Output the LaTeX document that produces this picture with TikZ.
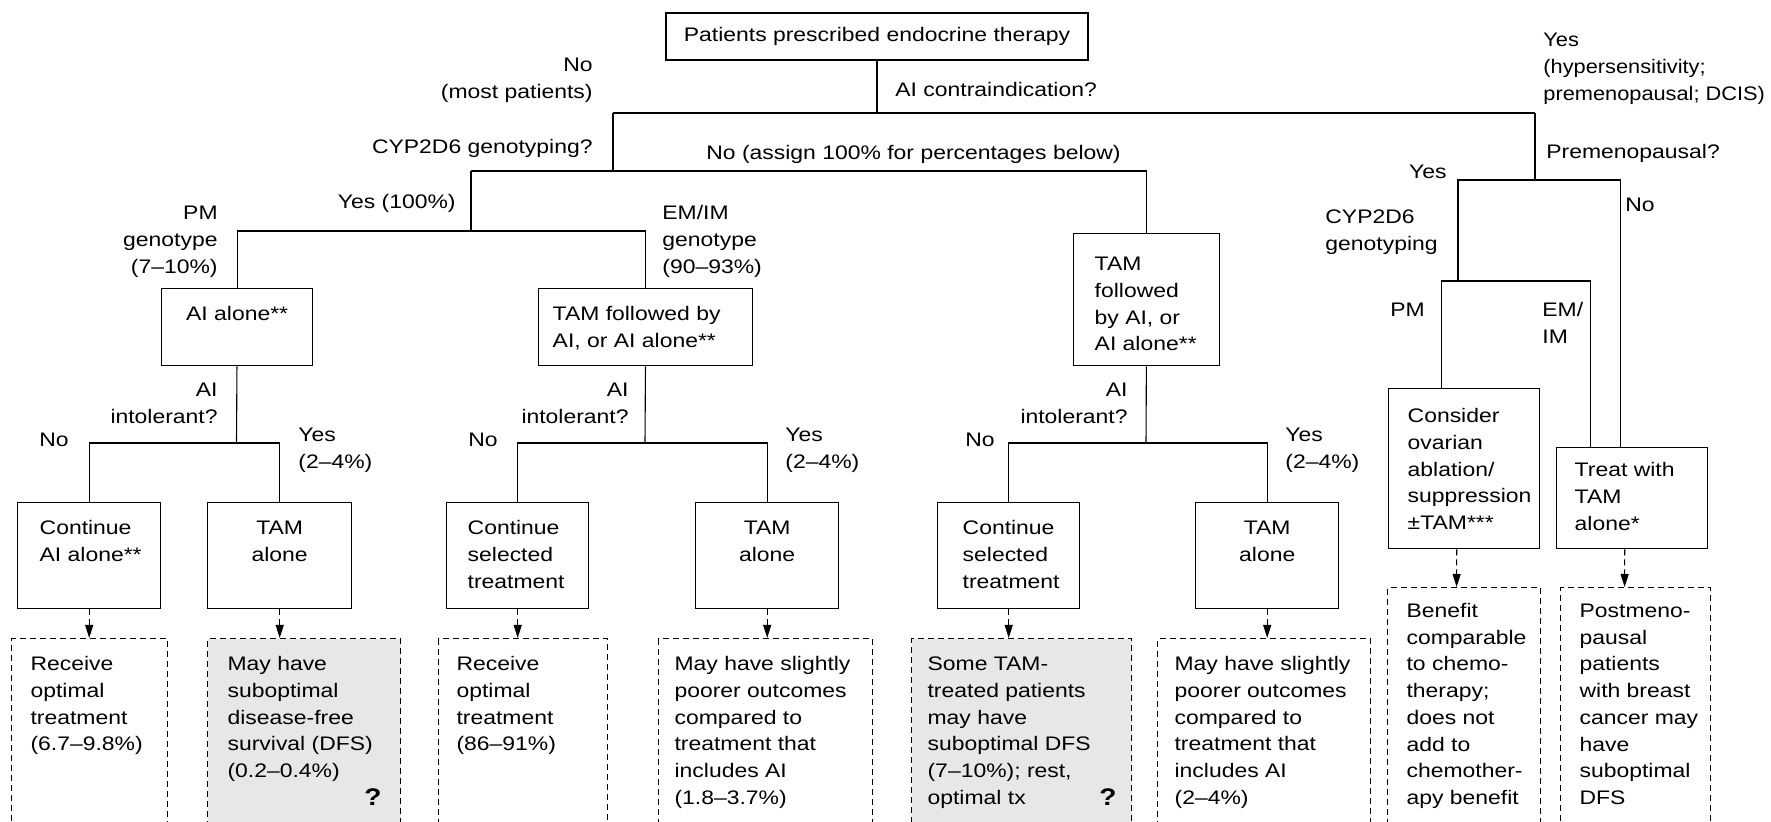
\documentclass[tikz,border=0pt]{standalone}
\usepackage{fontspec}
\usepackage{graphicx}
\setmainfont{Liberation Sans}[FakeStretch=1.17]
\usetikzlibrary{arrows.meta}
\definecolor{shade}{RGB}{230,231,232}
\hbadness=10000 \hfuzz=40pt
% text cells: first line sets the baseline
\newcommand\leftcell[2]{\makebox[#1][l]{\begin{tabular}[t]{@{}l@{}}#2\end{tabular}}}
\newcommand\midcell[2]{\makebox[#1][c]{\begin{tabular}[t]{@{}c@{}}#2\end{tabular}}}
\newcommand\leftlines[1]{\begin{tabular}[t]{@{}l@{}}#1\end{tabular}}
\newcommand\rightlines[1]{\begin{tabular}[t]{@{}r@{}}#1\end{tabular}}
\tikzset{
  box/.style={draw, line width=0.7pt, inner ysep=0pt, anchor=north west},
  outbox/.style={draw, dash pattern=on 3pt off 2pt, line width=0.6pt, inner ysep=0pt, anchor=north west},
  lbl/.style={inner sep=0pt},
  link/.style={line width=0.55pt},
  outarrow/.style={line width=0.55pt, dash pattern=on 3pt off 2pt, -{Triangle[length=6.5pt,width=4pt]}},
  qmark/.style={inner sep=0pt, font=\fontsize{12pt}{14pt}\selectfont\bfseries}
}
\begin{document}
\begin{tikzpicture}[x=0.5pt, y=-0.5pt, font=\fontsize{9.8pt}{13.35pt}\selectfont]
  \useasboundingbox (0,0) rectangle (1771,822);
  \clip (0,0) rectangle (1771,822);

  % decision boxes
  \node[box, anchor=center, inner sep=0pt, minimum width=211pt, minimum height=23.5pt] (top) at (877,36.5) {Patients prescribed endocrine therapy};
  \node[box, inner xsep=0pt, text height=16pt, text depth=22.5pt] (b1) at (161,288) {\midcell{75.5pt}{AI alone**}};
  \node[box, inner xsep=7pt, text height=16pt, text depth=22.5pt] (b2) at (538,288) {\leftcell{93pt}{TAM followed by\\AI, or AI alone**}};
  \node[box, inner xsep=10.5pt, text height=18.5pt, text depth=47.5pt] (b3) at (1073,233) {\leftcell{52pt}{TAM\\followed\\by AI, or\\AI alone**}};
  \node[box, inner xsep=11pt, text height=16pt, text depth=37pt] (c1) at (17,502) {\leftcell{49.5pt}{Continue\\AI alone**}};
  \node[box, inner xsep=0pt, text height=16pt, text depth=37pt] (c2) at (207,502) {\midcell{72pt}{TAM\\alone}};
  \node[box, inner xsep=10.5pt, text height=16pt, text depth=37pt] (c3) at (446,502) {\leftcell{50pt}{Continue\\selected\\treatment}};
  \node[box, inner xsep=0pt, text height=16pt, text depth=37pt] (c4) at (695,502) {\midcell{71.5pt}{TAM\\alone}};
  \node[box, inner xsep=12.5pt, text height=16pt, text depth=37pt] (c5) at (937,502) {\leftcell{46pt}{Continue\\selected\\treatment}};
  \node[box, inner xsep=0pt, text height=16pt, text depth=37pt] (c6) at (1195,502) {\midcell{71.5pt}{TAM\\alone}};
  \node[box, inner xsep=9.5pt, text height=17pt, text depth=63pt] (cons) at (1388,388) {\leftcell{56.5pt}{Consider\\ovarian\\ablation/\\suppression\\±TAM***}};
  \node[box, inner xsep=9pt, text height=14.5pt, text depth=36pt] (treat) at (1556,447) {\leftcell{57.5pt}{Treat with\\TAM\\alone*}};

  % outcome boxes
  \node[outbox, inner xsep=9.5pt, text height=16pt, text depth=85pt] (o1) at (11,638) {\leftcell{59pt}{Receive\\optimal\\treatment\\(6.7--9.8\%)}};
  \node[outbox, fill=shade, inner xsep=10pt, text height=16pt, text depth=85pt] (o2) at (207,638) {\leftcell{76.5pt}{May have\\suboptimal\\disease-free\\survival (DFS)\\(0.2--0.4\%)}};
  \node[outbox, inner xsep=9pt, text height=16pt, text depth=85pt] (o3) at (438,638) {\leftcell{66.5pt}{Receive\\optimal\\treatment\\(86--91\%)}};
  \node[outbox, inner xsep=8pt, text height=16pt, text depth=85pt] (o4) at (658,638) {\leftcell{91pt}{May have slightly\\poorer outcomes\\compared to\\treatment that\\includes AI\\(1.8--3.7\%)}};
  \node[outbox, fill=shade, inner xsep=8pt, text height=16pt, text depth=85pt] (o5) at (911,638) {\leftcell{94pt}{Some TAM-\\treated patients\\may have\\suboptimal DFS\\(7--10\%); rest,\\optimal tx}};
  \node[outbox, inner xsep=8.5pt, text height=16pt, text depth=85pt] (o6) at (1157,638) {\leftcell{89.5pt}{May have slightly\\poorer outcomes\\compared to\\treatment that\\includes AI\\(2--4\%)}};
  \node[outbox, inner xsep=9.5pt, text height=15pt, text depth=111.5pt] (o7) at (1387,587) {\leftcell{57.5pt}{Benefit\\comparable\\to chemo-\\therapy;\\does not\\add to\\chemother-\\apy benefit}};
  \node[outbox, inner xsep=9.5pt, text height=15pt, text depth=111.5pt] (o8) at (1560,587) {\leftcell{56pt}{Postmeno-\\pausal\\patients\\with breast\\cancer may\\have\\suboptimal\\DFS}};
  \node[qmark] (qa) at (373,797) {?};
  \node[qmark] (qb) at (1108,797) {?};

  % branch labels
  \node[lbl, anchor=base east] (no1) at (593,72) {\rightlines{No\\(most patients)}};
  \node[lbl, anchor=base west] (ask1) at (895,97) {AI contraindication?};
  \node[lbl, anchor=base west] (yes1) at (1543,47) {\scalebox{0.95}[1]{\leftlines{Yes\\(hypersensitivity;\\premenopausal; DCIS)}}};
  \node[lbl, anchor=base east] (ask2) at (593,154) {CYP2D6 genotyping?};
  \node[lbl, anchor=base west] (no2) at (706,160) {No (assign 100\% for percentages below)};
  \node[lbl, anchor=base west] (ask3) at (1546,159) {Premenopausal?};
  \node[lbl, anchor=base east] (yes3) at (1447,179) {Yes};
  \node[lbl, anchor=base west] (no3) at (1625,212) {No};
  \node[lbl, anchor=base west] (geno) at (1325,224) {\leftlines{CYP2D6\\genotyping}};
  \node[lbl, anchor=base east] (yes2) at (456,209) {Yes (100\%)};
  \node[lbl, anchor=base east] (pm) at (218,220) {\rightlines{PM\\genotype\\(7--10\%)}};
  \node[lbl, anchor=base west] (em) at (662,220) {\leftlines{EM/IM\\genotype\\(90--93\%)}};
  \node[lbl, anchor=base east] (int1) at (218,397) {\rightlines{AI\\intolerant?}};
  \node[lbl, anchor=base east] (int2) at (629,397) {\rightlines{AI\\intolerant?}};
  \node[lbl, anchor=base east] (int3) at (1128,397) {\rightlines{AI\\intolerant?}};
  \node[lbl, anchor=base west] (noa) at (39,447) {No};
  \node[lbl, anchor=base west] (nob) at (468,447) {No};
  \node[lbl, anchor=base west] (noc) at (965,447) {No};
  \node[lbl, anchor=base west] (yesa) at (298,442) {\leftlines{Yes\\(2--4\%)}};
  \node[lbl, anchor=base west] (yesb) at (785,442) {\leftlines{Yes\\(2--4\%)}};
  \node[lbl, anchor=base west] (yesc) at (1285,442) {\leftlines{Yes\\(2--4\%)}};
  \node[lbl, anchor=base west] (pm2) at (1390,317) {PM};
  \node[lbl, anchor=base west] (emim) at (1542,317) {\leftlines{EM/\\IM}};

  % tree lines
  \coordinate (aiL) at (613,113);
  \coordinate (aiR) at (1535,113);
  \coordinate (gen) at (613,171);
  \coordinate (genL) at (471,171);
  \coordinate (pmy) at (471,231);
  \coordinate (i1) at (236.5,443);
  \coordinate (i2) at (645,443);
  \coordinate (i3) at (1146,443);
  \coordinate (pre) at (1535,180);
  \coordinate (cyp) at (1458,281);
  \begin{scope}[link]
    \draw (top) -- (top |- aiL);
    \draw (aiL) -- (aiR);
    \draw (aiL) -- (gen);
    \draw (genL) -| (b3);
    \draw (genL) -- (pmy);
    \draw (b1) |- (pmy) -| (b2);
    \draw (b1) -- (i1);
    \draw (c1) |- (i1) -| (c2);
    \draw (b2) -- (i2);
    \draw (c3) |- (i2) -| (c4);
    \draw (b3) -- (i3);
    \draw (c5) |- (i3) -| (c6);
    \draw (aiR) -- (pre);
    \draw (pre) -| ([xshift=-5.75pt]treat.north);
    \draw (pre) -| (cyp);
    \draw ([xshift=-11.25pt]cons.north) |- (cyp) -| ([xshift=-20.75pt]treat.north);
  \end{scope}

  % outcomes
  \draw[outarrow] (c1) -- (c1 |- o1.north);
  \draw[outarrow] (c2) -- (c2 |- o2.north);
  \draw[outarrow] (c3) -- (c3 |- o3.north);
  \draw[outarrow] (c4) -- (c4 |- o4.north);
  \draw[outarrow] (c5) -- (c5 |- o5.north);
  \draw[outarrow] (c6) -- (c6 |- o6.north);
  \draw[outarrow] ([xshift=-3.75pt]cons.south) -- ([xshift=-3.75pt]o7.north);
  \draw[outarrow] ([xshift=-3.75pt]treat.south) -- ([xshift=-5.5pt]o8.north);
\end{tikzpicture}
\end{document}
